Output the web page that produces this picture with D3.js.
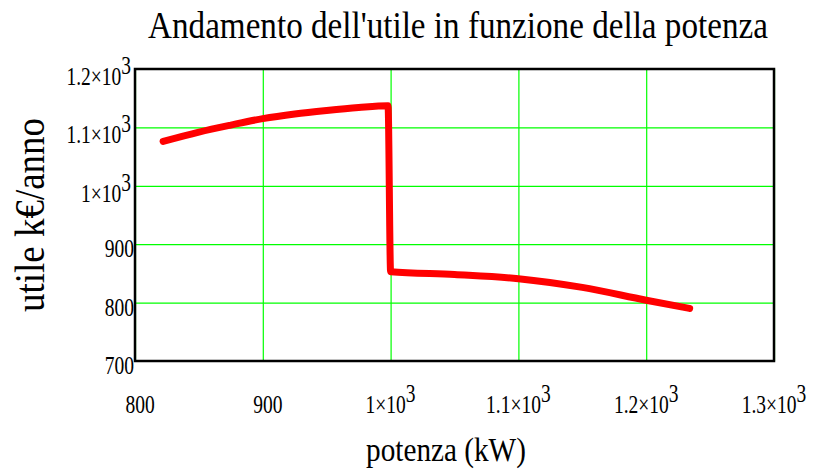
<!DOCTYPE html>
<html>
<head>
<meta charset="utf-8">
<script src="https://cdn.jsdelivr.net/npm/d3@7/dist/d3.min.js"></script>
<style>
  body { margin: 0; background: #fff; }
  text { font-family: "Liberation Serif", "DejaVu Serif", serif; fill: #000; }
</style>
</head>
<body>
<svg id="chart" width="815" height="470"></svg>
<script>
// potenza (kW) and utile (k€/anno)
var potenza = [822, 850, 875, 900, 925, 950, 975, 998, 1000, 1050, 1100, 1150, 1200, 1234];
var utile   = [1076, 1092, 1104, 1115, 1123, 1129, 1134, 1137, 853, 848, 841, 826, 804, 790];

var xTicks = [800, 900, 1000, 1100, 1200, 1300];
var yTicks = [700, 800, 900, 1000, 1100, 1200];

var titleText = "Andamento dell'utile in funzione della potenza";
var xLabel = "potenza (kW)";
var yLabel = "utile k€/anno";

var svg = d3.select("#chart");
var margin = { left: 135, right: 41, top: 69, bottom: 109 };
var W = 815, H = 470;

var x = d3.scaleLinear().domain([800, 1300]).range([margin.left, W - margin.right]);
var y = d3.scaleLinear().domain([700, 1200]).range([H - margin.bottom, margin.top]);

// Mathcad style: 1000 -> "1×10" + sup "3"
function writeLabel(sel, v){
    sel.text(null);
    if (v >= 1000) {
        sel.append("tspan").text(d3.format("~g")(v / 1000) + "×10");
        sel.append("tspan").attr("dy", "-0.45em").text("3");
    } else {
        sel.append("tspan").text(v);
    }
}

// narrow text, the original font is condensed
function putText(px, py, sx, rot){
    return svg.append("text")
        .attr("transform", "translate(" + px + "," + py + ")" + (rot ? " rotate(" + rot + ")" : "") + " scale(" + sx + ",1)");
}

// grid
svg.append("g")
    .attr("transform", "translate(0," + (H - margin.bottom) + ")")
    .call(d3.axisBottom(x).tickValues(xTicks).tickSize(-(H - margin.top - margin.bottom)).tickFormat(""))
    .call(function(g){ g.select(".domain").remove(); })
    .selectAll("line").attr("stroke", "#00ff00").attr("stroke-width", 1.2);

svg.append("g")
    .attr("transform", "translate(" + margin.left + ",0)")
    .call(d3.axisLeft(y).tickValues(yTicks).tickSize(-(W - margin.left - margin.right)).tickFormat(""))
    .call(function(g){ g.select(".domain").remove(); })
    .selectAll("line").attr("stroke", "#00ff00").attr("stroke-width", 1.2);

// tick labels
xTicks.forEach(function(d){
    putText(x(d) + (d >= 1000 ? 0 : 5), 413, 0.78)
        .attr("text-anchor", "middle")
        .attr("font-size", 25)
        .call(writeLabel, d);
});

yTicks.forEach(function(d){
    putText(d >= 1000 ? margin.left - 4 : margin.left - 1, y(d) + (d >= 1000 ? 16 : 13), 0.78)
        .attr("text-anchor", "end")
        .attr("font-size", 25)
        .call(writeLabel, d);
});

// curve
var pts = potenza.map(function(p, i){ return [p, utile[i]]; });
svg.append("path")
    .datum(pts)
    .attr("fill", "none")
    .attr("stroke", "#ff0000")
    .attr("stroke-width", 7)
    .attr("stroke-linecap", "round")
    .attr("stroke-linejoin", "round")
    .attr("d", d3.line().x(function(d){ return x(d[0]); }).y(function(d){ return y(d[1]); }).curve(d3.curveMonotoneX));

// frame
svg.append("rect")
    .attr("x", margin.left).attr("y", margin.top)
    .attr("width", W - margin.left - margin.right)
    .attr("height", H - margin.top - margin.bottom)
    .attr("fill", "none").attr("stroke", "#000").attr("stroke-width", 2.5);

// titles
putText(458, 38, 0.85).attr("text-anchor", "middle").attr("font-size", 39).text(titleText);
putText(446, 461, 0.86).attr("text-anchor", "middle").attr("font-size", 34).text(xLabel);
putText(44, 215, 0.88, -90).attr("text-anchor", "middle").attr("font-size", 42).text(yLabel);
</script>
</body>
</html>
